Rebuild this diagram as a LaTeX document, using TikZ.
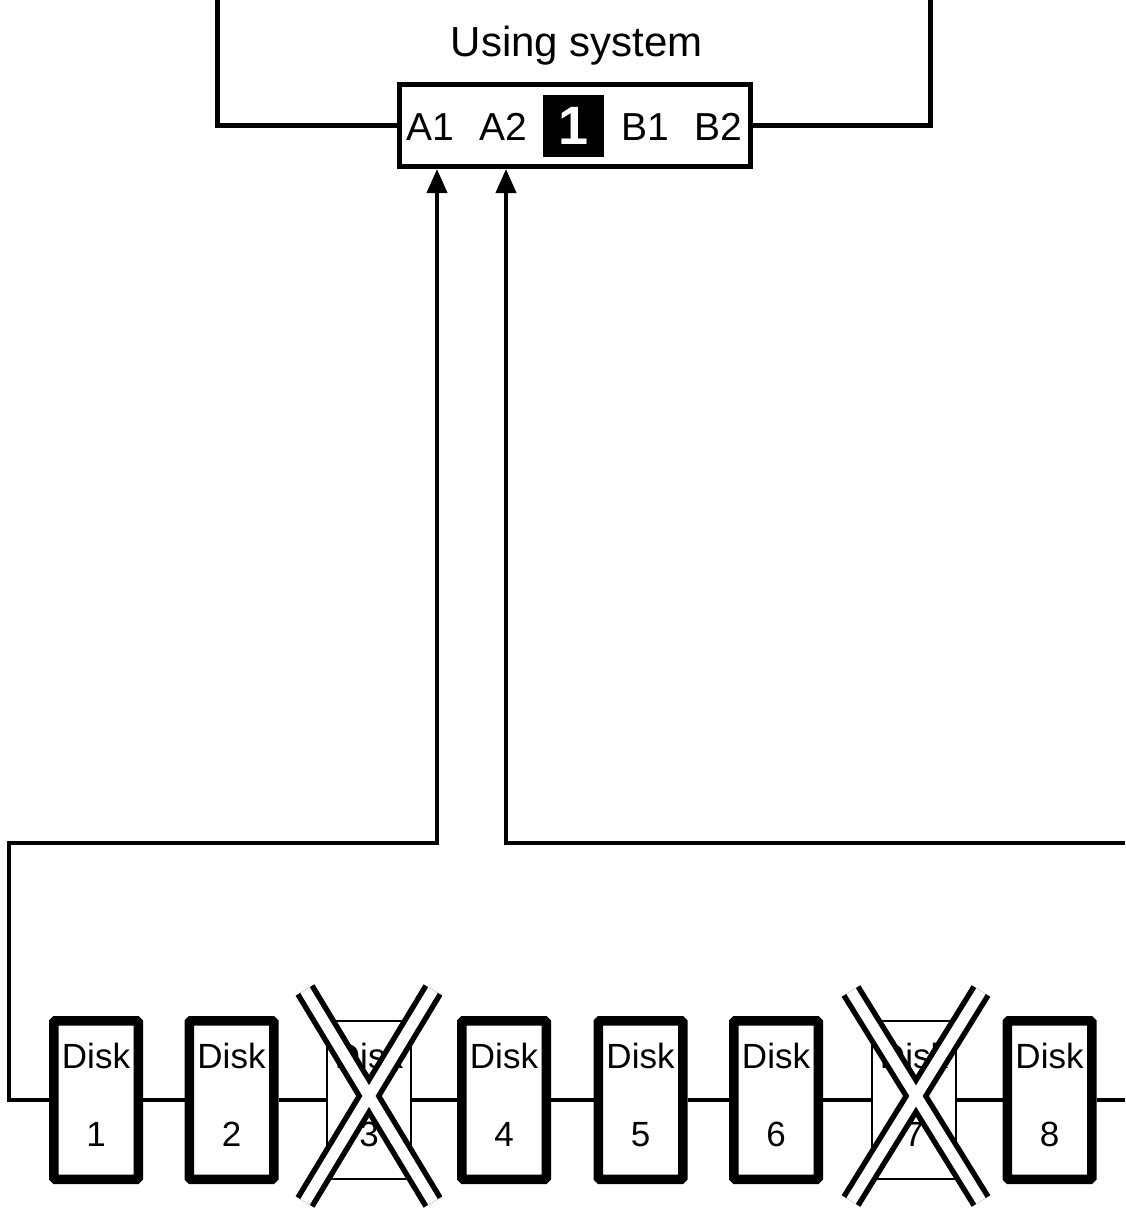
\documentclass[tikz,border=0pt]{standalone}
\usepackage{fontspec}
\setmainfont{Liberation Sans}
\usetikzlibrary{arrows.meta}
\begin{document}
\begin{tikzpicture}[x=1pt,y=-1pt,
  wire/.style={line width=5pt},
  conn/.style={line width=4pt},
  tipup/.style={-{Triangle[width=20pt,length=24pt]}},
  chainline/.style={line width=3.5pt},
  disk/.style={draw,line width=9.5pt,minimum width=84.5pt,minimum height=158.5pt,inner sep=0pt,rounded corners=1.5pt},
  ghost/.style={draw,line width=1.2pt,minimum width=84pt,minimum height=158pt,inner sep=0pt},
  disktxt/.style={font=\fontsize{35}{35}\selectfont,anchor=base,inner sep=0pt},
  porttxt/.style={font=\fontsize{39}{39}\selectfont,anchor=base,inner sep=0pt},
  xouter/.style={line width=22pt,black,line join=round},
  xinner/.style={line width=11pt,white,line join=round}]
\clip (0,0) rectangle (1125,1213);
% top system
\node[font=\fontsize{42}{42}\selectfont,anchor=base,inner sep=0pt] (title) at (577,56) {Using system};
\node[draw,line width=5pt,minimum width=351pt,minimum height=82pt,inner sep=0pt] (sys) at (575,125.5) {};
\node[porttxt] (A1) at (430,140) {A1};
\node[porttxt] (A2) at (503,140) {A2};
\node[fill=black,text=white,font=\bfseries\fontsize{54}{54}\selectfont,minimum width=61pt,minimum height=62pt,inner sep=0pt] (one) at (573.5,126) {1};
\node[porttxt] (B1) at (645,140) {B1};
\node[porttxt] (B2) at (718,140) {B2};
\coordinate (tL) at (217,0);
\coordinate (tR) at (930,0);
\draw[wire] (tL) |- (sys.west);
\draw[wire] (tR) |- (sys.east);
% disks
\foreach \n/\cx in {1/96,2/231.5,4/504,5/640.5,6/776,8/1049.5}{
  \node[disk] (d\n) at (\cx,1100) {};
  \node[disktxt] (dl\n) at (\cx,1068) {Disk};
  \node[disktxt] (dn\n) at (\cx,1146) {\n};
}
\foreach \n/\cx in {3/369,7/914}{
  \node[ghost] (d\n) at (\cx,1100) {};
  \node[disktxt] (dl\n) at (\cx,1068) {Disk};
  \node[disktxt] (dn\n) at (\cx,1146) {\n};
}
% chain
\coordinate (eR) at (1125,1100);
\draw[chainline] (d1.east) -- (d2.west);
\draw[chainline] (d2.east) -- (d3.west);
\draw[chainline] (d3.east) -- (d4.west);
\draw[chainline] (d4.east) -- (d5.west);
\draw[chainline] (d5.east) -- (d6.west);
\draw[chainline] (d6.east) -- (d7.west);
\draw[chainline] (d7.east) -- (d8.west);
\draw[chainline] (d8.east) -- (eR);
% feeds to system
\coordinate (kL) at (9,843);
\coordinate (kA1) at (437,843);
\coordinate (kA2) at (506,843);
\coordinate (kR) at (1125,843);
\draw[conn,tipup] (d1.west) -| (kL) -- (kA1) -- (kA1 |- sys.south);
\draw[conn,tipup] (kR) -- (kA2) -- (kA2 |- sys.south);
% crosses on failed disks
\draw[xouter] (305,990) -- (433,1202) (433,990) -- (305,1202);
\draw[xinner] (305,990) -- (433,1202) (433,990) -- (305,1202);
\draw[xouter] (851,991) -- (981,1201) (981,991) -- (851,1201);
\draw[xinner] (851,991) -- (981,1201) (981,991) -- (851,1201);
\end{tikzpicture}
\end{document}
